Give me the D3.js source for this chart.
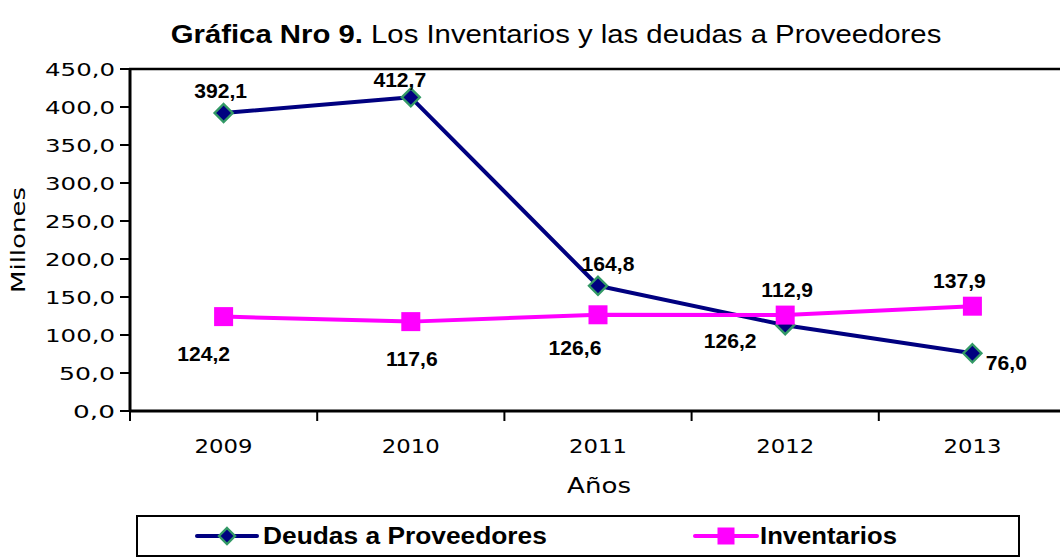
<!DOCTYPE html>
<html><head><meta charset="utf-8">
<script src="https://cdn.jsdelivr.net/npm/d3@7/dist/d3.min.js"></script>
<style>html,body{margin:0;padding:0;background:#fff;overflow:hidden}</style>
</head><body>
<svg id="chart" width="1060" height="558"></svg>
<script>
const years = ["2009", "2010", "2011", "2012", "2013"];
const deudas = [392.1, 412.7, 164.8, 112.9, 76.0];
const inventarios = [124.2, 117.6, 126.6, 126.2, 137.9];
const yTicks = [0, 50, 100, 150, 200, 250, 300, 350, 400, 450];
const seriesNames = ["Deudas a Proveedores", "Inventarios"];

const svg = d3.select("#chart");
const NAVY = "#000080", MAG = "#FF00FF", GREEN = "#339966";
const ARIAL = "'Liberation Sans', Arial, sans-serif";
const loc = d3.formatLocale({decimal: ",", thousands: ".", grouping: [3], currency: ["", ""]});
const f1 = loc.format(".1f");

const x = d3.scaleBand().domain(years).range([130, 1066]);
const y = d3.scaleLinear().domain([0, 450]).range([411, 69]);
const cx = d => x(d) + x.bandwidth() / 2;

function fit(t, w) {
  const len = t.node().getComputedTextLength();
  const tr = t.attr("data-tr");
  t.attr("transform", tr + ` scale(${w / len},1)`);
}
function addText(g, str, px, py, opts) {
  const t = g.append("text").attr("x", 0).attr("y", 0)
    .attr("font-family", opts.family || "'DejaVu Sans', sans-serif")
    .attr("font-size", opts.size)
    .attr("font-weight", opts.weight || "normal")
    .attr("text-anchor", opts.anchor || "middle")
    .attr("fill", "#000")
    .text(str);
  const tr = `translate(${px},${py})` + (opts.rotate ? ` rotate(${opts.rotate})` : "");
  t.attr("data-tr", tr).attr("transform", tr);
  if (opts.sx) t.attr("transform", tr + ` scale(${opts.sx},1)`);
  if (opts.width) fit(t, opts.width);
  return t;
}

// Title
const title = svg.append("text").attr("font-family", ARIAL).attr("font-size", 25).attr("text-anchor", "middle");
title.append("tspan").attr("font-weight", "bold").text("Gráfica Nro 9.");
title.append("tspan").text(" Los Inventarios y las deudas a Proveedores");
title.attr("data-tr", "translate(556,43)");
fit(title, 771);

// Axes
const gy = svg.append("g");
yTicks.forEach(v => {
  gy.append("line").attr("x1", 120).attr("x2", 130).attr("y1", y(v)).attr("y2", y(v)).attr("stroke", "#000").attr("stroke-width", 2);
  addText(gy, f1(v), 115, y(v) + 6.5, {size: 18, anchor: "end", width: 70 * f1(v).length / 5});
});
svg.append("line").attr("x1", 130).attr("x2", 130).attr("y1", y(450)).attr("y2", y(0) + 1).attr("stroke", "#000").attr("stroke-width", 3);
svg.append("line").attr("x1", 129).attr("x2", 1060).attr("y1", y(450)).attr("y2", y(450)).attr("stroke", "#000").attr("stroke-width", 2.5);
svg.append("line").attr("x1", 129).attr("x2", 1060).attr("y1", y(0)).attr("y2", y(0)).attr("stroke", "#000").attr("stroke-width", 3);
years.forEach(d => {
  svg.append("line").attr("x1", x(d)).attr("x2", x(d)).attr("y1", y(0)).attr("y2", y(0) + 10).attr("stroke", "#000").attr("stroke-width", 2);
  addText(svg, d, cx(d), 453, {size: 19, width: 58});
});
addText(svg, "Años", 599, 493, {size: 22, width: 64});
addText(svg, "Millones", 25, 240, {size: 20, rotate: -90, width: 106});

// Lines
const line = d3.line().x((v, i) => cx(years[i])).y(v => y(v));
svg.append("path").datum(deudas).attr("d", line).attr("fill", "none").attr("stroke", NAVY).attr("stroke-width", 4).attr("stroke-linejoin", "round");
svg.append("path").datum(inventarios).attr("d", line).attr("fill", "none").attr("stroke", MAG).attr("stroke-width", 4).attr("stroke-linejoin", "round");

function diamond(g, px, py, r) {
  g.append("path").attr("d", `M${px},${py - r}L${px + r},${py}L${px},${py + r}L${px - r},${py}Z`)
    .attr("fill", NAVY).attr("stroke", GREEN).attr("stroke-width", 2.4);
}
function square(g, px, py, s) {
  g.append("rect").attr("x", px - s / 2).attr("y", py - s / 2).attr("width", s).attr("height", s).attr("fill", MAG);
}
deudas.forEach((v, i) => diamond(svg, cx(years[i]), y(v), 9));
inventarios.forEach((v, i) => square(svg, cx(years[i]), y(v), 19));

// Data labels (offsets relative to the point)
const offD = [[-3, -15], [-11, -10], [10, -15], [2, -28], [34, 17]];
const offI = [[-20, 44], [1, 44], [-23, 40], [-55, 33], [-13, -18]];
const lblOpts = {family: ARIAL, size: 20.5, weight: "bold", sx: 1.03};
deudas.forEach((v, i) => addText(svg, f1(v), cx(years[i]) + offD[i][0], y(v) + offD[i][1], lblOpts));
inventarios.forEach((v, i) => addText(svg, f1(v), cx(years[i]) + offI[i][0], y(v) + offI[i][1], lblOpts));

// Legend
const lg = svg.append("g");
lg.append("rect").attr("x", 137).attr("y", 516).attr("width", 882).attr("height", 40).attr("fill", "none").attr("stroke", "#000").attr("stroke-width", 2);
lg.append("line").attr("x1", 197).attr("x2", 257).attr("y1", 536).attr("y2", 536).attr("stroke", NAVY).attr("stroke-width", 4).attr("stroke-linecap", "round");
diamond(lg, 227, 536, 8);
addText(lg, seriesNames[0], 263, 544, {family: ARIAL, size: 24, weight: "bold", anchor: "start", width: 284});
lg.append("line").attr("x1", 695).attr("x2", 757).attr("y1", 536).attr("y2", 536).attr("stroke", MAG).attr("stroke-width", 4).attr("stroke-linecap", "round");
square(lg, 726, 536, 17);
addText(lg, seriesNames[1], 760, 544, {family: ARIAL, size: 24, weight: "bold", anchor: "start", width: 137});
</script>
</body></html>
